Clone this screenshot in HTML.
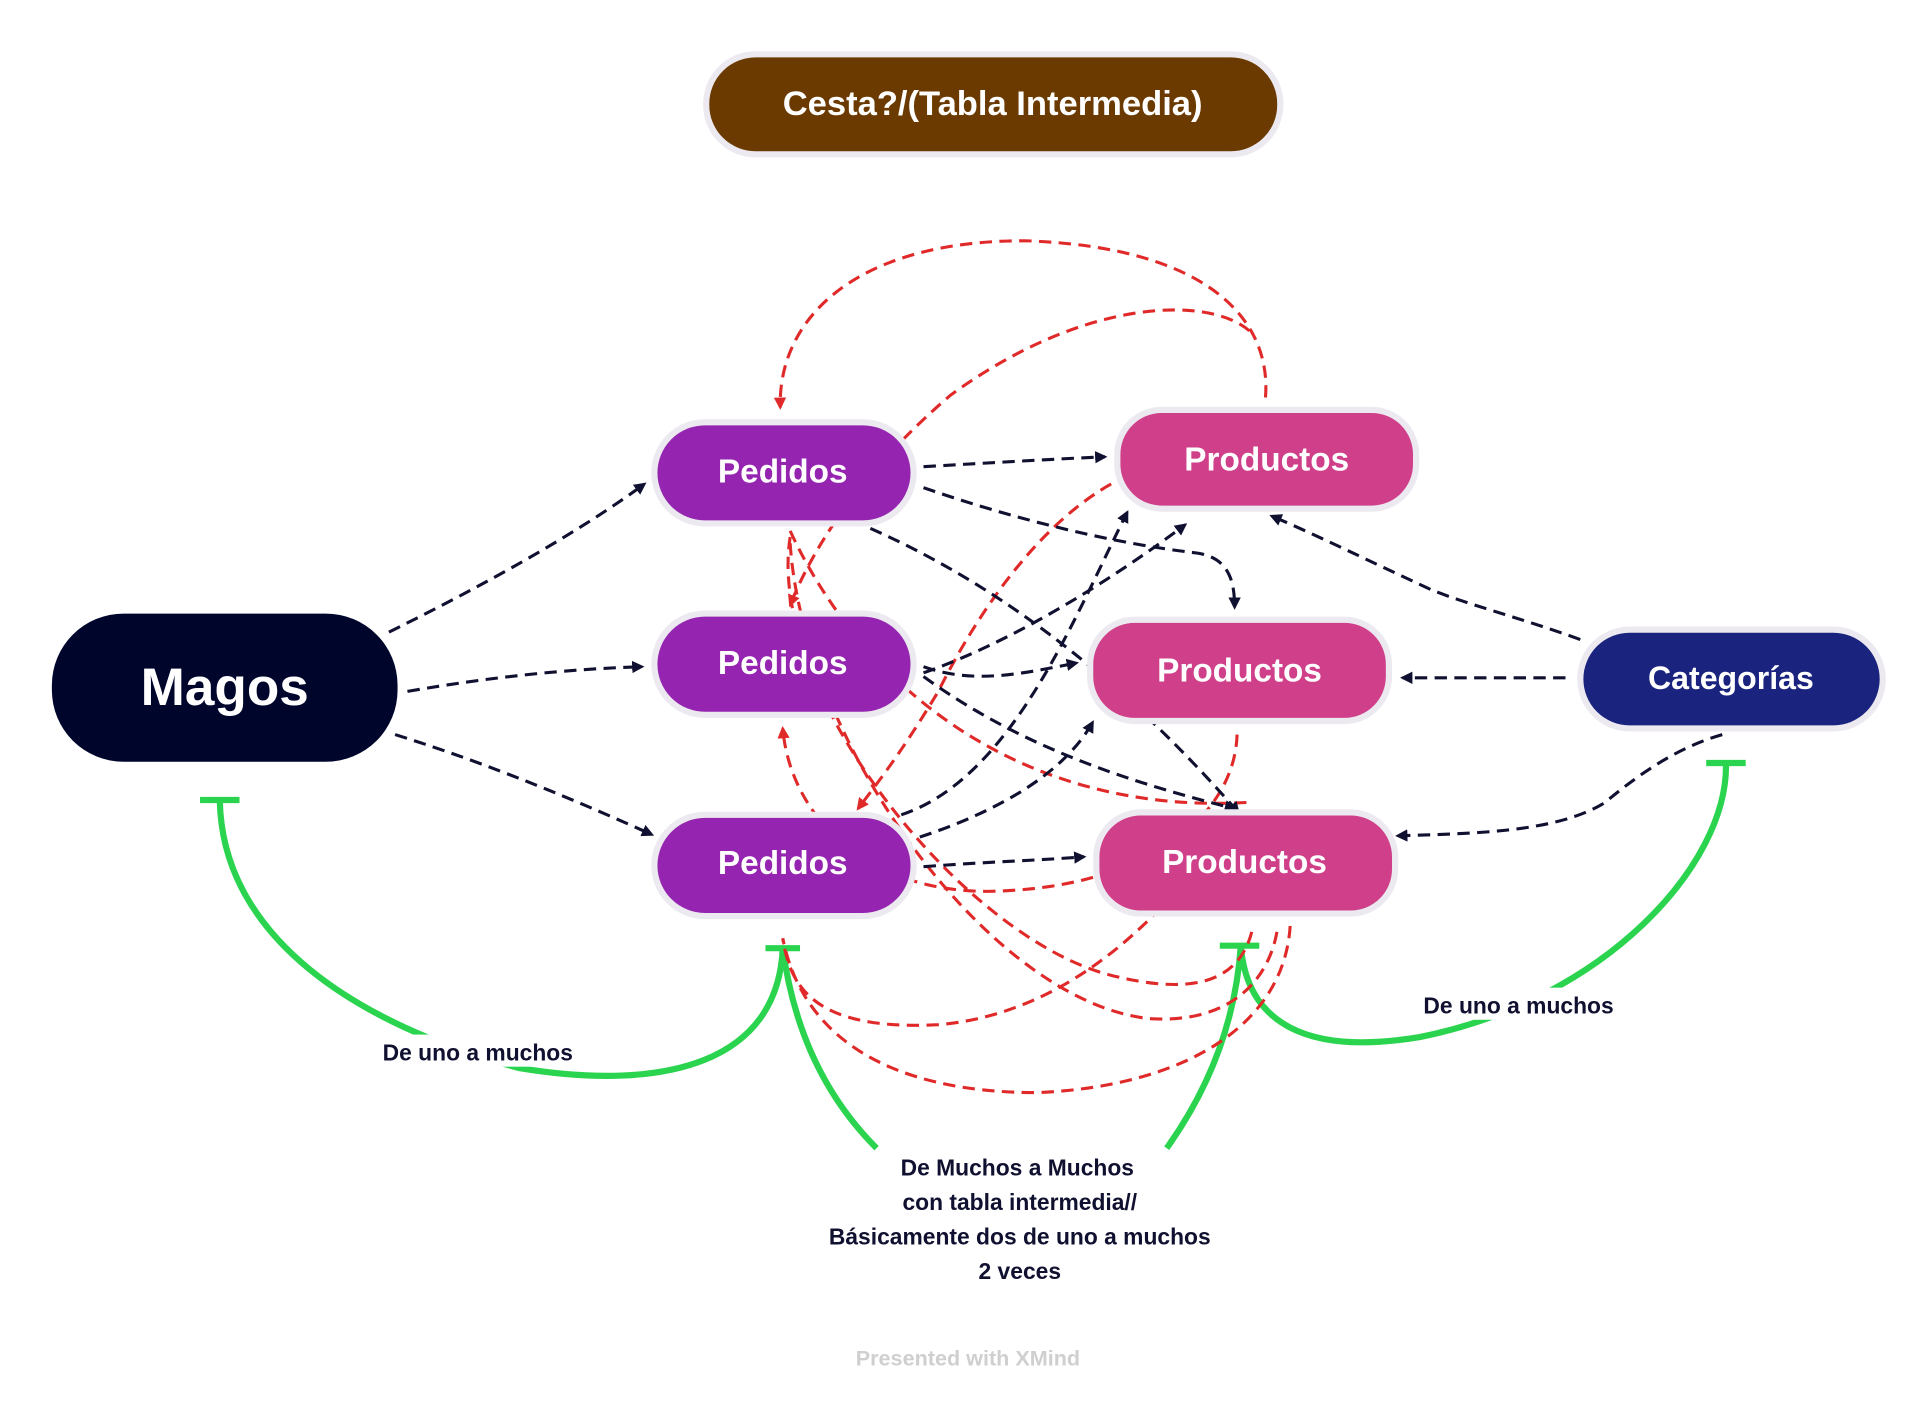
<!DOCTYPE html>
<html><head><meta charset="utf-8"><style>
html,body{margin:0;padding:0;background:#fff;}
svg{display:block;}
text{font-family:"Liberation Sans",sans-serif;font-weight:bold;}
</style></head><body>
<svg width="1926" height="1402" viewBox="0 0 1560 1135.6" xmlns="http://www.w3.org/2000/svg">
<defs>
<marker id="ad" markerWidth="10" markerHeight="10" refX="8" refY="5" orient="auto" markerUnits="userSpaceOnUse"><path d="M0,0 L10,5 L0,10 z" fill="#101030"/></marker>
<marker id="ar" markerWidth="10" markerHeight="10" refX="8" refY="5" orient="auto" markerUnits="userSpaceOnUse"><path d="M0,0 L10,5 L0,10 z" fill="#e02a2a"/></marker>
</defs>
<!-- green curves -->
<g fill="none" stroke="#2bd44f" stroke-width="5">
<path d="M178,648 C180,760 290,830 420,865 C540,885 630,860 634,768"/>
<path d="M162,648 H194"/><path d="M620,768 H648"/>
<path d="M634,768 C645,850 680,900 710,930"/>
<path d="M1005,766 C1000,840 970,895 945,930"/>
<path d="M1005,766 C1010,830 1060,855 1150,840 C1300,810 1400,700 1398,618"/>
<path d="M988,766 H1020"/><path d="M1382,618 H1414"/>
</g>
<rect x="292" y="838" width="192" height="26" fill="#fff"/>
<rect x="1135" y="800" width="192" height="26" fill="#fff"/>
<!-- red dashed -->
<g fill="none" stroke="#e02a2a" stroke-width="2.5" stroke-dasharray="10,6">
<path d="M1025,322 C1030,260 980,200 830,195 C690,195 630,260 632,330" marker-end="url(#ar)"/>
<path d="M1012,268 C980,240 880,240 770,320 C700,380 660,440 640,490" marker-end="url(#ar)"/>
<path d="M900,392 C850,420 800,480 760,560 C730,610 710,635 695,655" marker-end="url(#ar)"/>
<path d="M1002,595 C1000,660 930,720 800,722 C700,722 640,660 634,590" marker-end="url(#ar)"/>
<path d="M1000,660 C960,720 880,820 760,830 C660,835 640,800 634,760"/>
<path d="M640,430 C700,560 830,660 1010,650"/>
<path d="M640,435 C620,560 780,760 900,790 C960,805 1005,800 1015,750"/>
<path d="M640,440 C650,600 800,810 930,825 C1000,830 1030,790 1035,750"/>
<path d="M1045,750 C1040,830 960,880 840,885 C720,885 650,840 634,760"/>
</g>
<!-- dark dashed -->
<g fill="none" stroke="#101030" stroke-width="2.5" stroke-dasharray="10,6">
<path d="M315,512 C400,470 470,430 522,392" marker-end="url(#ad)"/>
<path d="M330,560 C400,548 460,542 520,540" marker-end="url(#ad)"/>
<path d="M320,595 C400,620 470,650 528,676" marker-end="url(#ad)"/>
<path d="M748,378 C800,375 850,372 895,370" marker-end="url(#ad)"/>
<path d="M748,395 C820,420 900,440 970,448 C995,452 1000,470 1000,492" marker-end="url(#ad)"/>
<path d="M705,428 C800,470 900,540 1003,658" marker-end="url(#ad)"/>
<path d="M748,545 C820,520 900,470 960,425" marker-end="url(#ad)"/>
<path d="M748,540 C790,555 830,545 872,537" marker-end="url(#ad)"/>
<path d="M748,548 C820,600 900,630 1000,655" marker-end="url(#ad)"/>
<path d="M730,660 C820,630 870,500 913,415" marker-end="url(#ad)"/>
<path d="M745,678 C800,660 860,630 885,585" marker-end="url(#ad)"/>
<path d="M748,702 C800,698 840,697 878,694" marker-end="url(#ad)"/>
<path d="M1280,518 C1230,500 1190,490 1160,478 C1110,455 1070,435 1030,418" marker-end="url(#ad)"/>
<path d="M1268,549 H1136" marker-end="url(#ad)"/>
<path d="M1395,595 C1360,605 1330,625 1300,650 C1260,675 1190,675 1132,677" marker-end="url(#ad)"/>
</g>
<!-- nodes -->
<g stroke="#eceaf0" stroke-width="5">
<rect x="572" y="44" width="465" height="81" rx="40" fill="#6b3a00"/>
<rect x="42" y="497" width="280" height="120" rx="58" fill="#00052b" stroke="none"/>
<rect x="530" y="342" width="210" height="82" rx="41" fill="#9525b0"/>
<rect x="530" y="497" width="210" height="82" rx="41" fill="#9525b0"/>
<rect x="530" y="660" width="210" height="82" rx="41" fill="#9525b0"/>
<rect x="905" y="332" width="242" height="80" rx="36" fill="#d0408a"/>
<rect x="883" y="502" width="242" height="82" rx="36" fill="#d0408a"/>
<rect x="888" y="658" width="242" height="82" rx="36" fill="#d0408a"/>
<rect x="1280" y="510" width="245" height="80" rx="40" fill="#1a237e"/>
</g>
<g fill="#fff" text-anchor="middle">
<text x="804" y="93" font-size="28">Cesta?/(Tabla Intermedia)</text>
<text x="182" y="571" font-size="43">Magos</text>
<text x="634" y="391" font-size="27">Pedidos</text>
<text x="634" y="546" font-size="27">Pedidos</text>
<text x="634" y="708" font-size="27">Pedidos</text>
<text x="1026" y="381" font-size="27">Productos</text>
<text x="1004" y="552" font-size="27">Productos</text>
<text x="1008" y="707" font-size="27">Productos</text>
<text x="1402" y="558" font-size="26">Categorías</text>
</g>
<g fill="#101030" text-anchor="middle" font-size="18.5">
<text x="387" y="859">De uno a muchos</text>
<text x="1230" y="821">De uno a muchos</text>
<text x="824" y="952">De Muchos a Muchos</text>
<text x="826" y="980">con tabla intermedia//</text>
<text x="826" y="1008">Básicamente dos de uno a muchos</text>
<text x="826" y="1036">2 veces</text>
</g>
<text x="784" y="1106" text-anchor="middle" font-size="17.5" fill="#cfcfcf">Presented with XMind</text>
</svg>
</body></html>
